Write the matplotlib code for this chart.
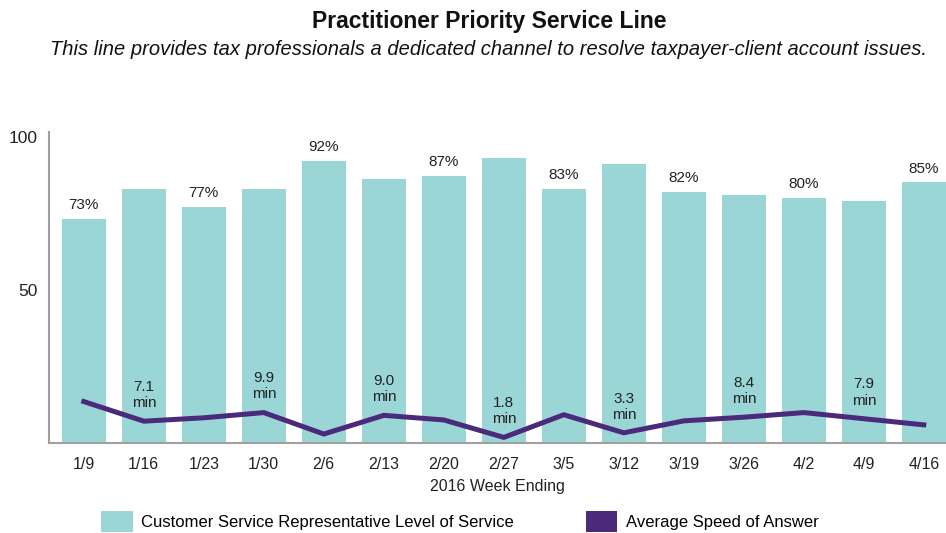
import matplotlib
matplotlib.use("Agg")
from matplotlib import pyplot as plt
from matplotlib.patches import Patch

# data
weeks = ["1/9", "1/16", "1/23", "1/30", "2/6", "2/13", "2/20", "2/27",
         "3/5", "3/12", "3/19", "3/26", "4/2", "4/9", "4/16"]
level_of_service = [73, 83, 77, 83, 92, 86, 87, 93, 83, 91, 82, 81, 80, 79, 85]
speed_of_answer = [13.5, 7.1, 8.2, 9.9, 2.9, 9.0, 7.5, 1.8, 9.2, 3.3, 7.2, 8.4, 9.9, 7.9, 5.9]

# which points get a label
los_labeled = [0, 2, 4, 6, 8, 10, 12, 14]
asa_labeled = [1, 3, 5, 7, 9, 11, 13]

bar_color = "#9AD6D6"
line_color = "#4B2A7B"
text_color = "#222222"

narrow = ["Liberation Sans Narrow", "Liberation Sans", "DejaVu Sans"]
regular = ["Liberation Sans", "DejaVu Sans"]

fig = plt.figure(figsize=(9.46, 5.33), dpi=100)
ax = fig.add_axes([0.0518, 0.169, 0.9482, 0.5835])

x = list(range(len(weeks)))
ax.bar(x, level_of_service, width=0.73, color=bar_color, zorder=1)
ax.plot(x, speed_of_answer, color=line_color, linewidth=3.6,
        solid_joinstyle="miter", zorder=3)

# percent labels above bars
for i in los_labeled:
    ax.annotate(f"{level_of_service[i]}%", (x[i], level_of_service[i]),
                xytext=(0, 5), textcoords="offset points",
                ha="center", va="bottom", fontsize=11,
                color=text_color, family=regular)

# minute labels above the line
for i in asa_labeled:
    ax.annotate(f"{speed_of_answer[i]:.1f}\nmin", (x[i], speed_of_answer[i]),
                xytext=(0, 8), textcoords="offset points",
                ha="center", va="bottom", fontsize=11, linespacing=1.2,
                color=text_color, family=regular)

ax.set_xlim(-0.58, 14.37)
ax.set_ylim(0, 101.5)
ax.set_yticks([50, 100])
ax.set_yticklabels(["50", "100"], fontsize=12.5, color=text_color, family=regular)
ax.set_xticks(x)
ax.set_xticklabels(weeks, fontsize=11.5, color=text_color, family=narrow)
ax.tick_params(axis="both", length=0)
ax.tick_params(axis="x", pad=10)
ax.tick_params(axis="y", pad=8)
ax.set_xlabel("2016 Week Ending", fontsize=11.5, color=text_color,
              family=narrow, labelpad=5)

for side in ["top", "right"]:
    ax.spines[side].set_visible(False)
for side in ["left", "bottom"]:
    ax.spines[side].set_color("#a0a0a0")
    ax.spines[side].set_linewidth(1.5)

# titles
fig.text(0.517, 0.960, "Practitioner Priority Service Line", ha="center",
         va="center", fontsize=16.5, fontweight="bold", color="#111111",
         family=narrow)
fig.text(0.516, 0.908,
         "This line provides tax professionals a dedicated channel to resolve taxpayer-client account issues.",
         ha="center", va="center", fontsize=14.5, style="italic",
         color="#111111", family=regular)

# legend
handles = [Patch(facecolor=bar_color, edgecolor="none"),
           Patch(facecolor=line_color, edgecolor="none")]
fig.legend(handles, ["Customer Service Representative Level of Service",
                     "Average Speed of Answer"],
           loc="center", bbox_to_anchor=(0.486, 0.022), ncol=2, frameon=False,
           handlelength=1.9, handleheight=1.6, handletextpad=0.5,
           columnspacing=4.3, prop={"family": narrow, "size": 12})

plt.savefig("out.png", dpi=100)
